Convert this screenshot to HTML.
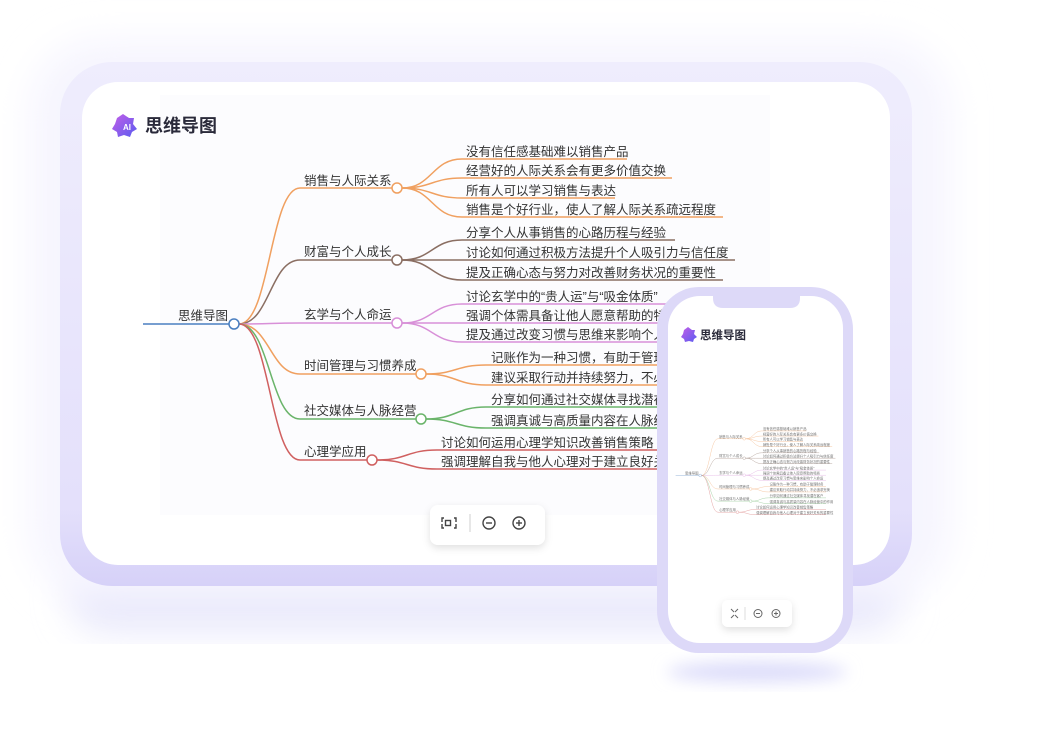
<!DOCTYPE html>
<html><head><meta charset="utf-8"><style>
html,body{margin:0;padding:0;background:#fff;}
body{width:1054px;height:724px;overflow:hidden;position:relative;font-family:"Liberation Sans","Noto Sans CJK SC",sans-serif;}
svg text{font-family:"Liberation Sans","Noto Sans CJK SC",sans-serif;}
</style></head><body>
<svg width="1054" height="724" viewBox="0 0 1054 724" xmlns="http://www.w3.org/2000/svg">
<defs>
<filter id="blur" x="-20%" y="-20%" width="140%" height="140%"><feGaussianBlur stdDeviation="18"/></filter>
<filter id="blur2" x="-20%" y="-50%" width="140%" height="200%"><feGaussianBlur stdDeviation="8"/></filter>
<filter id="sh" x="-30%" y="-30%" width="160%" height="180%"><feDropShadow dx="0" dy="3" stdDeviation="4" flood-color="#000" flood-opacity="0.12"/></filter>
<linearGradient id="fr" x1="0" y1="0" x2="0" y2="1"><stop offset="0" stop-color="#efedfd"/><stop offset="0.85" stop-color="#e4e0fb"/><stop offset="1" stop-color="#d6d1f8"/></linearGradient>
<linearGradient id="ic" x1="0" y1="0" x2="1" y2="1"><stop offset="0" stop-color="#c45ee8"/><stop offset="1" stop-color="#5a5cf0"/></linearGradient>
</defs>
<rect x="70" y="560" width="830" height="70" rx="35" fill="#e6e6fb" filter="url(#blur)"/>
<rect x="30" y="40" width="920" height="560" rx="70" fill="#f6f5fe" filter="url(#blur)"/>
<ellipse cx="757" cy="672" rx="90" ry="10" fill="#dcdcfa" filter="url(#blur2)"/>
<rect x="60" y="62" width="852" height="524" rx="52" fill="url(#fr)"/>
<rect x="82" y="82" width="808" height="483" rx="36" fill="#fff"/>
<rect x="160" y="95" width="610" height="420" fill="#fcfcfe"/>
<path d="M117 118 l6 -4 l6 4 l5 0 l-1 6 l4 5 l-5 3 l-2 5 l-6 -2 l-6 2 l-1 -5 l-5 -3 l3 -5 z" fill="url(#ic)"/>
<text x="123" y="130" font-size="8" fill="#fff" font-weight="bold">AI</text>
<text x="145" y="132" font-size="18" font-weight="bold" fill="#2a2a3a">思维导图</text>
<g id="mm" fill="none" stroke-width="1.5" font-size="12.5">
<g stroke="#f0a060">
<path d="M239 324 C270 324 270 188 300 188 L392 188"/>
<path d="M402 188 C432 188 432 159 462 159 L627 159"/>
<path d="M402 188 C432 188 432 178 462 178 L672 178"/>
<path d="M402 188 C432 188 432 198 462 198 L615 198"/>
<path d="M402 188 C432 188 432 217 462 217 L723 217"/>
</g>
<g stroke="#8a6e62">
<path d="M239 324 C270 324 270 260 300 260 L392 260"/>
<path d="M402 260 C432 260 432 240 462 240 L675 240"/>
<path d="M402 260 C432 260 432 260 462 260 L735 260"/>
<path d="M402 260 C432 260 432 280 462 280 L723 280"/>
</g>
<g stroke="#d890d8">
<path d="M239 324 C270 324 270 323 300 323 L392 323"/>
<path d="M402 323 C432 323 432 304 462 304 L700 304"/>
<path d="M402 323 C432 323 432 323 462 323 L700 323"/>
<path d="M402 323 C432 323 432 342 462 342 L700 342"/>
</g>
<g stroke="#f0a060">
<path d="M239 324 C270 324 270 374 300 374 L416 374"/>
<path d="M426 374 C456 374 456 365 486 365 L700 365"/>
<path d="M426 374 C456 374 456 385 486 385 L700 385"/>
</g>
<g stroke="#6ab46a">
<path d="M239 324 C270 324 270 419 300 419 L416 419"/>
<path d="M426 419 C456 419 456 407 486 407 L700 407"/>
<path d="M426 419 C456 419 456 428 486 428 L700 428"/>
</g>
<g stroke="#d06060">
<path d="M239 324 C270 324 270 460 300 460 L367 460"/>
<path d="M377 460 C407 460 407 450 437 450 L700 450"/>
<path d="M377 460 C407 460 407 469 437 469 L700 469"/>
</g>
<path d="M143 324 L229 324" stroke="#4a7fc0"/>
<g fill="#fff" stroke-width="1.5">
<circle cx="234" cy="324" r="5" stroke="#4a7fc0"/>
<circle cx="397" cy="188" r="5" stroke="#f0a060"/>
<circle cx="397" cy="260" r="5" stroke="#8a6e62"/>
<circle cx="397" cy="323" r="5" stroke="#d890d8"/>
<circle cx="421" cy="374" r="5" stroke="#f0a060"/>
<circle cx="421" cy="419" r="5" stroke="#6ab46a"/>
<circle cx="372" cy="460" r="5" stroke="#d06060"/>
</g>
<g fill="#333" stroke="none">
<text x="178" y="320">思维导图</text>
<text x="304" y="185">销售与人际关系</text>
<text x="304" y="256">财富与个人成长</text>
<text x="304" y="319">玄学与个人命运</text>
<text x="304" y="370">时间管理与习惯养成</text>
<text x="304" y="415">社交媒体与人脉经营</text>
<text x="304" y="456">心理学应用</text>
<text x="466" y="156">没有信任感基础难以销售产品</text>
<text x="466" y="175">经营好的人际关系会有更多价值交换</text>
<text x="466" y="195">所有人可以学习销售与表达</text>
<text x="466" y="214">销售是个好行业，使人了解人际关系疏远程度</text>
<text x="466" y="237">分享个人从事销售的心路历程与经验</text>
<text x="466" y="257">讨论如何通过积极方法提升个人吸引力与信任度</text>
<text x="466" y="277">提及正确心态与努力对改善财务状况的重要性</text>
<text x="466" y="301">讨论玄学中的“贵人运”与“吸金体质”</text>
<text x="466" y="320">强调个体需具备让他人愿意帮助的特质</text>
<text x="466" y="339">提及通过改变习惯与思维来影响个人命运</text>
<text x="491" y="362">记账作为一种习惯，有助于管理财务</text>
<text x="491" y="382">建议采取行动并持续努力，不必追求完美</text>
<text x="491" y="404">分享如何通过社交媒体寻找潜在客户</text>
<text x="491" y="425">强调真诚与高质量内容在人脉经营中的作用</text>
<text x="441" y="447">讨论如何运用心理学知识改善销售策略</text>
<text x="441" y="466">强调理解自我与他人心理对于建立良好关系的重要性</text>
</g>
</g>
<rect x="430" y="505" width="115" height="40" rx="8" fill="#fff" filter="url(#sh)"/>
<g stroke="#444" stroke-width="1.4" fill="none">
<path d="M444 518 h-2 v4 M454 518 h2 v4 M444 528 h-2 v-4 M454 528 h2 v-4"/>
<rect x="445.5" y="520.5" width="5" height="5"/>
<line x1="470" y1="514" x2="470" y2="532" stroke="#ddd"/>
<circle cx="489" cy="523" r="6"/><line x1="486" y1="523" x2="492" y2="523"/>
<circle cx="519" cy="523" r="6"/><line x1="516" y1="523" x2="522" y2="523"/><line x1="519" y1="520" x2="519" y2="526"/>
</g>
<rect x="657" y="287" width="196" height="366" rx="42" fill="#ddd9f8"/>
<rect x="668" y="296" width="175" height="347" rx="32" fill="#fff"/>
<path d="M713 296 h87 v2 q0 10 -10 10 h-67 q-10 0 -10 -10 z" fill="#ddd9f8"/>
<path d="M684 330 l4 -3 l4 3 l3 0 l-1 4 l3 3 l-3 2 l-1 3 l-4 -1 l-4 1 l-1 -3 l-3 -2 l2 -3 z" fill="url(#ic)"/>
<text x="700" y="339" font-size="11.5" font-weight="bold" fill="#2a2a3a">思维导图</text>
<g transform="translate(637 388) scale(0.27)" opacity="0.7">
<use href="#mm"/>
</g>
<rect x="722" y="600" width="70" height="27" rx="6" fill="#fff" filter="url(#sh)"/>
<g stroke="#666" stroke-width="1" fill="none">
<path d="M731 609 l3 3 M738 609 l-3 3 M731 618 l3 -3 M738 618 l-3 -3"/>
<line x1="745" y1="607" x2="745" y2="620" stroke="#ddd"/>
<circle cx="758" cy="613.5" r="4"/><line x1="756" y1="613.5" x2="760" y2="613.5"/>
<circle cx="776" cy="613.5" r="4"/><line x1="774" y1="613.5" x2="778" y2="613.5"/><line x1="776" y1="611.5" x2="776" y2="615.5"/>
</g>
</svg>
</body></html>
